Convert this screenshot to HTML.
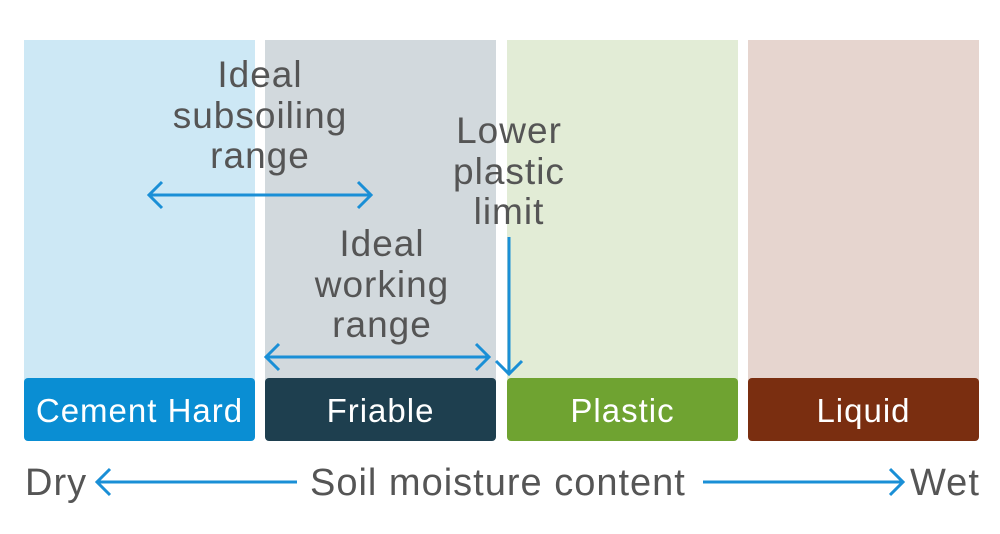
<!DOCTYPE html>
<html><head><style>
body{margin:0;width:1000px;height:534px;background:#fff;position:relative;overflow:hidden;font-family:"Liberation Sans",Arial,sans-serif}
.bg{position:absolute;top:40px;height:345px;width:231px}
.bar{position:absolute;top:378px;height:63px;width:231px;border-radius:4px;color:#fff;font-size:33px;letter-spacing:1px;line-height:66px;text-align:center}
.t{position:absolute;color:#555;font-size:37px;letter-spacing:1px;line-height:40.5px;text-align:center;width:300px}
.b{position:absolute;color:#555;font-size:38px;letter-spacing:1px;line-height:40px;top:463px}
svg{position:absolute;left:0;top:0}
</style></head><body>
<div class="bg" style="left:24px;background:#cde8f5"></div>
<div class="bg" style="left:265px;background:#d2d9dd"></div>
<div class="bg" style="left:507px;background:#e2ecd6"></div>
<div class="bg" style="left:748px;background:#e6d5cf"></div>
<div class="bar" style="left:24px;background:#0a8ed3">Cement Hard</div>
<div class="bar" style="left:265px;background:#1e3f4f">Friable</div>
<div class="bar" style="left:507px;background:#6fa331">Plastic</div>
<div class="bar" style="left:748px;background:#7a2e10">Liquid</div>
<div class="t" style="left:110px;top:55px">Ideal<br>subsoiling<br>range</div>
<div class="t" style="left:232px;top:224px">Ideal<br>working<br>range</div>
<div class="t" style="left:359px;top:111px">Lower<br>plastic<br>limit</div>
<div class="b" style="left:25px">Dry</div>
<div class="b" style="left:310px">Soil moisture content</div>
<div class="b" style="left:910px">Wet</div>
<svg width="1000" height="534" fill="none" stroke="#1a8fd6" stroke-width="3">
<path d="M149 195H371M162 182L149 195L162 208M358 182L371 195L358 208"/>
<path d="M266 357H489M279 344L266 357L279 370M476 344L489 357L476 370"/>
<path d="M509 237V374M496 361L509 374L522 361"/>
<path d="M97 482H297M110 469L97 482L110 495"/>
<path d="M703 482H903M890 469L903 482L890 495"/>
</svg>
</body></html>
